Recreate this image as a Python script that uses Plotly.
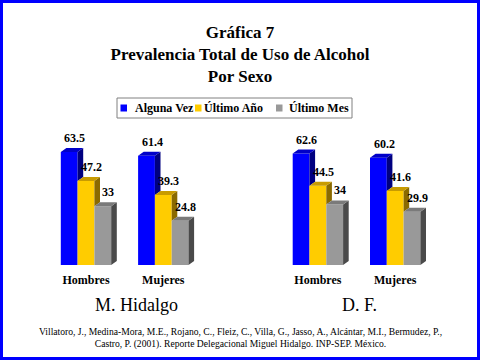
import plotly.graph_objects as go

# ---------------- data ----------------
group_names = ["M. Hidalgo", "D. F."]
sex_labels = ["Hombres", "Mujeres", "Hombres", "Mujeres"]
x_slots = [0, 1, 3, 4]          # slot 2 is the empty gap between the two groups
series_names = ["Alguna Vez", "Último Año", "Último Mes"]
alguna_vez = [63.5, 61.4, 62.6, 60.2]
ultimo_anio = [47.2, 39.3, 44.5, 41.6]
ultimo_mes = [33, 24.8, 34, 29.9]
series_values = [alguna_vez, ultimo_anio, ultimo_mes]
title_lines = ["Gráfica 7", "Prevalencia Total de Uso de Alcohol", "Por Sexo"]
citation_lines = [
    "Villatoro, J., Medina-Mora, M.E., Rojano, C., Fleiz, C., Villa, G., Jasso, A., Alcántar, M.I., Bermudez, P.,",
    "Castro, P. (2001). Reporte Delegacional Miguel Hidalgo. INP-SEP. México.",
]

# ---------------- styles ----------------
front_colors = ["#0000FF", "#FFCC00", "#999999"]
top_colors = ["#0000C8", "#C89B00", "#7A7A7A"]
side_colors = ["#000080", "#8A6A00", "#4A4A4A"]
SERIF = "Liberation Serif"

W, H = 480, 360
PX_X = 77.3            # pixels per x unit
PX_Y = 1.78            # pixels per y unit
X0_PX = 86             # pixel position of slot 0
BASE_PX = 265          # pixel row of the baseline
bw = 16.8 / PX_X       # bar width (x units)
dx = 5.6 / PX_X        # 3-D depth in x units
dy = 4.0 / PX_Y        # 3-D depth in y units

x_range = [-X0_PX / PX_X, (W - X0_PX) / PX_X]
y_dom = [(H - BASE_PX) / H, 1]
y_range = [0, BASE_PX / PX_Y]

fig = go.Figure()

# front faces as real bars
for k, (name, vals) in enumerate(zip(series_names, series_values)):
    fig.add_trace(go.Bar(
        x=x_slots, y=vals, name=name, width=bw, offset=-1.5 * bw + k * bw,
        marker=dict(color=front_colors[k], line=dict(width=0)),
        showlegend=False, hoverinfo="x+y+name",
    ))

# side & top faces (3-D effect) computed from the same values
for k, vals in enumerate(series_values):
    sx, sy, tx, ty = [], [], [], []
    for i, xc in enumerate(x_slots):
        v = vals[i]
        left = xc - 1.5 * bw + k * bw
        right = left + bw
        nxt = series_values[k + 1][i] if k + 1 < len(series_values) else 0
        base = min(nxt, v)
        sx += [right, right + dx, right + dx, right, right, None]
        sy += [base, base + dy, v + dy, v, base, None]
        tx += [left, left + dx, right + dx, right, left, None]
        ty += [v, v + dy, v + dy, v, v, None]
    fig.add_trace(go.Scatter(x=sx, y=sy, mode="lines", fill="toself",
                             fillcolor=side_colors[k], line=dict(width=0),
                             showlegend=False, hoverinfo="skip"))
    fig.add_trace(go.Scatter(x=tx, y=ty, mode="lines", fill="toself",
                             fillcolor=top_colors[k], line=dict(width=0),
                             showlegend=False, hoverinfo="skip"))

annotations = []
# data labels
for k, vals in enumerate(series_values):
    for i, xc in enumerate(x_slots):
        v = vals[i]
        center = xc - bw + k * bw
        annotations.append(dict(
            x=center, y=v, xref="x", yref="y", text=f"{v:g}", showarrow=False,
            xanchor="center", yanchor="middle", xshift=5.6, yshift=4 + 10,
            font=dict(family=SERIF, size=12, color="black", weight="bold"),
        ))

# group labels
for name, xp in zip(group_names, [136.3, 359.5]):
    annotations.append(dict(
        x=xp / W, y=1 - 305 / H, xref="paper", yref="paper", text=name,
        showarrow=False, xanchor="center", yanchor="middle",
        font=dict(family=SERIF, size=18, color="black"),
    ))

# citation
annotations.append(dict(
    x=0.5, y=1 - 338 / H, xref="paper", yref="paper",
    text="<br>".join(citation_lines), showarrow=False,
    xanchor="center", yanchor="middle", align="center",
    font=dict(family=SERIF, size=9.6, color="black"),
))

# manual legend
shapes = [dict(type="rect", xref="paper", yref="paper",
               x0=117 / W, x1=352 / W, y0=1 - 118 / H, y1=1 - 98 / H,
               line=dict(color="#808080", width=1), fillcolor="white", layer="below")]
legend_sq = [120.5, 195, 276]
legend_tx = [132.7, 202, 286.7]
for k, name in enumerate(series_names):
    shapes.append(dict(type="rect", xref="paper", yref="paper",
                       x0=legend_sq[k] / W, x1=(legend_sq[k] + 6.5) / W,
                       y0=1 - 111.5 / H, y1=1 - 104.5 / H,
                       line=dict(width=0), fillcolor=front_colors[k]))
    annotations.append(dict(
        x=legend_tx[k] / W, y=1 - 108 / H, xref="paper", yref="paper", text=name,
        showarrow=False, xanchor="left", yanchor="middle",
        font=dict(family=SERIF, size=12, color="black", weight="bold"),
    ))

# blue frame
shapes.append(dict(type="rect", xref="paper", yref="paper",
                   x0=1.5 / W, x1=1 - 1.5 / W, y0=1.5 / H, y1=1 - 1.5 / H,
                   line=dict(color="#0000FF", width=3)))

fig.update_layout(
    width=W, height=H, margin=dict(l=0, r=0, t=0, b=0),
    paper_bgcolor="white", plot_bgcolor="white",
    barmode="overlay", showlegend=False,
    font=dict(family=SERIF, color="black"),
    title=dict(text="<br>".join(title_lines), x=0.5, xanchor="center",
               y=1 - 38 / H, yanchor="middle", xref="paper", yref="paper",
               font=dict(family=SERIF, size=17, color="black", weight="bold")),
    xaxis=dict(range=x_range, tickvals=x_slots, ticktext=sex_labels,
               showgrid=False, zeroline=False, showline=False, ticks="",
               ticklabelstandoff=6,
               tickfont=dict(family=SERIF, size=12, color="black", weight="bold")),
    yaxis=dict(range=y_range, domain=y_dom, visible=False),
    annotations=annotations, shapes=shapes,
)

fig.write_html("out.html", config={"displayModeBar": False},
               post_script="document.body.style.margin='0';")
